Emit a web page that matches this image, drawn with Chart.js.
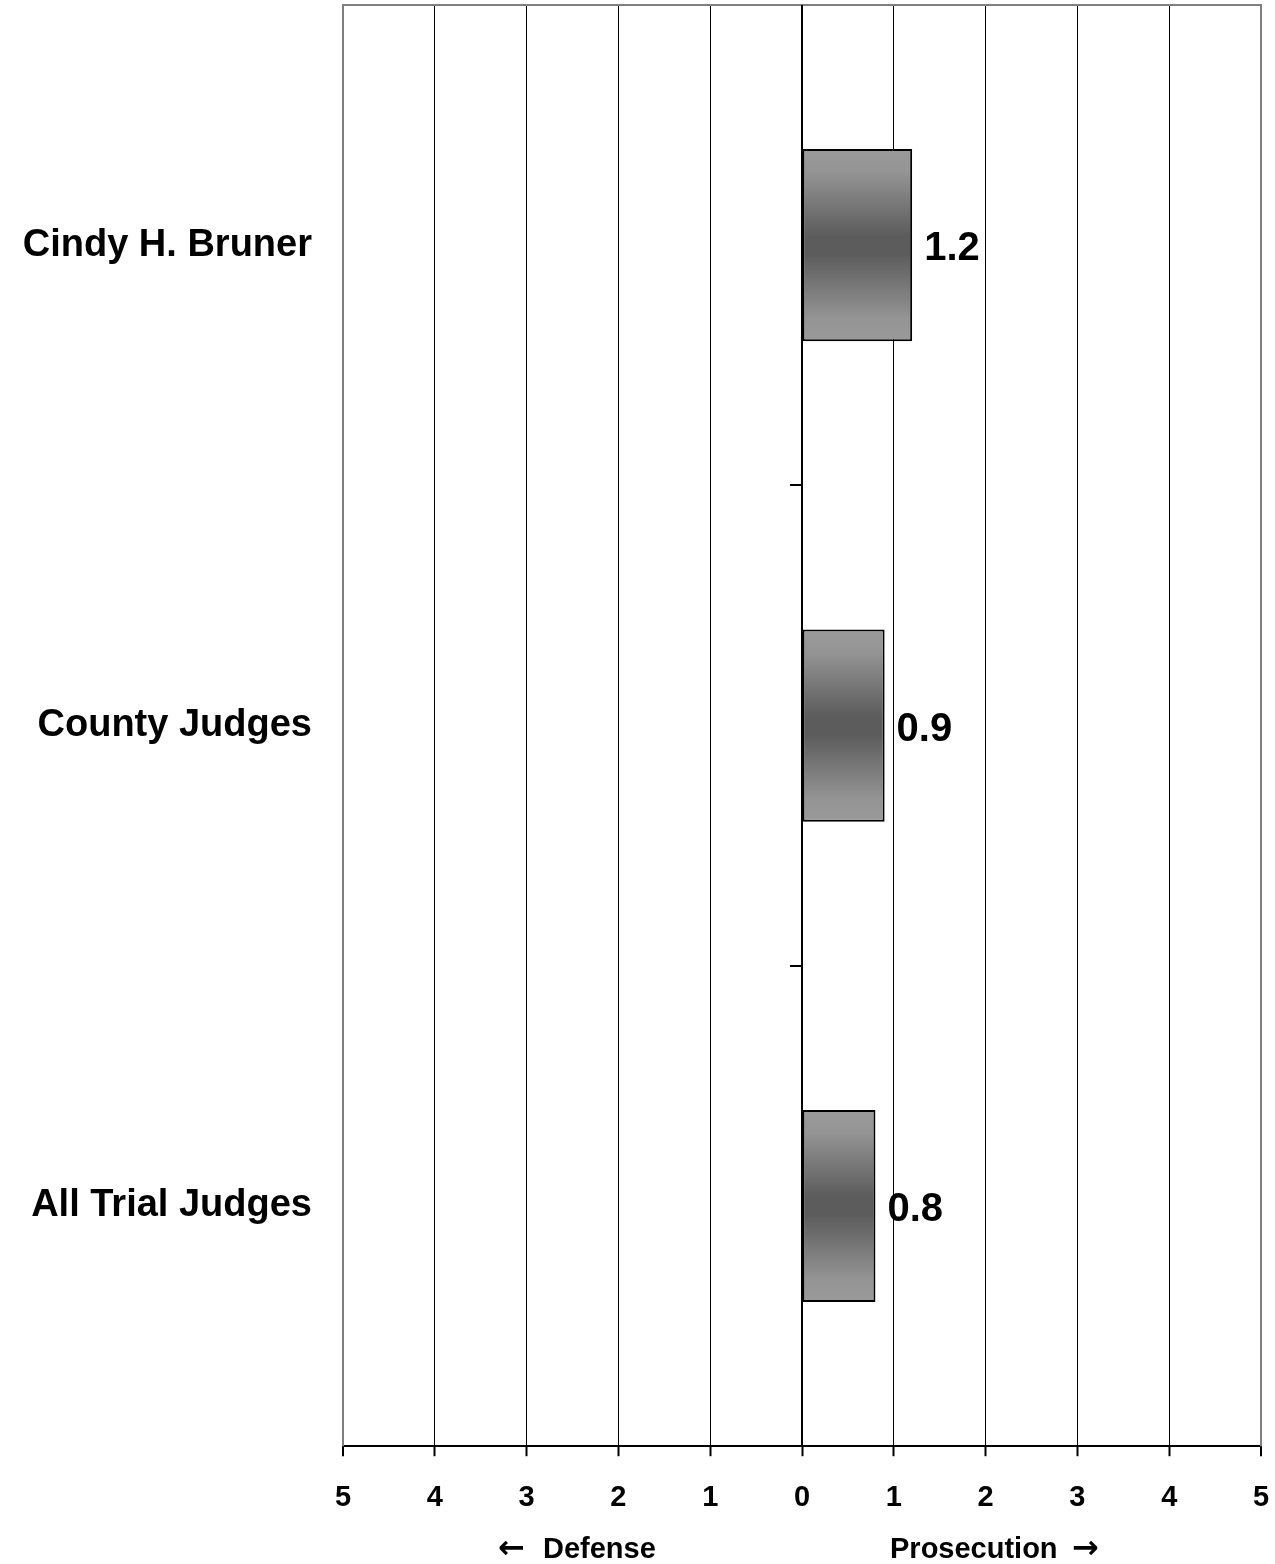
<!DOCTYPE html>
<html>
<head>
<meta charset="utf-8">
<script src="https://cdn.jsdelivr.net/npm/chart.js@4.4.1/dist/chart.umd.min.js"></script>
<style>
  html, body { margin: 0; padding: 0; background: #fff; }
  #wrap { width: 1275px; height: 1564px; position: relative; }
</style>
</head>
<body>
<div id="wrap"><canvas id="c" width="1275" height="1564"></canvas></div>
<script>
const categories = ["Cindy H. Bruner", "County Judges", "All Trial Judges"];
const values = [1.2, 0.9, 0.8];
const valueLabels = ["1.2", "0.9", "0.8"];
const axisMin = -5;
const axisMax = 5;
const leftTitle = "Defense";
const rightTitle = "Prosecution";

const FONT = "'Liberation Sans', Arial, Helvetica, sans-serif";
const BAR_PCT = 0.4;

function barGradient(ctx) {
  const chart = ctx.chart;
  const y = chart.scales && chart.scales.y;
  if (!chart.chartArea || !y || ctx.dataIndex === undefined) return '#777';
  const center = y.getPixelForValue(ctx.dataIndex);
  const half = (y.height / categories.length) * BAR_PCT / 2;
  const g = chart.ctx.createLinearGradient(0, center - half, 0, center + half);
  g.addColorStop(0, '#9a9a9a');
  g.addColorStop(0.12, '#949494');
  g.addColorStop(0.45, '#5c5c5c');
  g.addColorStop(0.55, '#5c5c5c');
  g.addColorStop(0.88, '#949494');
  g.addColorStop(1, '#9a9a9a');
  return g;
}

const decor = {
  id: 'decor',
  beforeDatasetsDraw(chart) {
    const {ctx, chartArea: a} = chart;
    ctx.save();
    ctx.strokeStyle = '#808080';
    ctx.lineWidth = 2;
    ctx.beginPath();
    ctx.moveTo(a.left, a.bottom);
    ctx.lineTo(a.left, a.top);
    ctx.lineTo(a.right, a.top);
    ctx.lineTo(a.right, a.bottom);
    ctx.stroke();
    ctx.restore();
  },
  afterDatasetsDraw(chart) {
    const {ctx, chartArea: a, scales: {x, y}} = chart;
    ctx.save();
    const x0 = x.getPixelForValue(0);
    ctx.strokeStyle = '#000';
    ctx.lineWidth = 2;
    ctx.beginPath();
    ctx.moveTo(x0, a.top);
    ctx.lineTo(x0, a.bottom);
    const step = y.height / categories.length;
    for (let i = 1; i < categories.length; i++) {
      const yy = Math.round(y.getPixelForValue(i) - step / 2);
      ctx.moveTo(x0 - 12, yy);
      ctx.lineTo(x0, yy);
    }
    ctx.stroke();
    const meta = chart.getDatasetMeta(0);
    ctx.fillStyle = '#000';
    ctx.font = 'bold 40px ' + FONT;
    ctx.textAlign = 'left';
    ctx.textBaseline = 'middle';
    meta.data.forEach((bar, i) => {
      ctx.fillText(valueLabels[i], bar.x + 12, bar.y + 4);
    });
    // axis titles
    const ty = 1550;
    ctx.font = 'bold 29px ' + FONT;
    ctx.fillText(leftTitle, 543, ty);
    ctx.fillText(rightTitle, 890, ty);
    ctx.font = 'bold 32px "DejaVu Sans", sans-serif';
    ctx.fillText('\u2190', 498, ty);
    ctx.fillText('\u2192', 1072, ty);
    ctx.restore();
  }
};

new Chart(document.getElementById('c'), {
  type: 'bar',
  data: {
    labels: categories,
    datasets: [{
      data: values,
      backgroundColor: barGradient,
      borderColor: '#000',
      borderWidth: 2,
      borderSkipped: false,
      barPercentage: BAR_PCT,
      categoryPercentage: 1.0
    }]
  },
  options: {
    indexAxis: 'y',
    responsive: false,
    animation: false,
    devicePixelRatio: 1,
    layout: { padding: { top: 5, right: 14, bottom: 25, left: 0 } },
    plugins: { legend: { display: false }, tooltip: { enabled: false }, title: { display: false } },
    scales: {
      x: {
        min: axisMin,
        max: axisMax,
        ticks: {
          stepSize: 1,
          color: '#000',
          font: { family: FONT, size: 29, weight: 'bold' },
          padding: 24,
          maxRotation: 0,
          callback: v => String(Math.abs(v))
        },
        grid: {
          color: c => (c.tick && Math.abs(c.tick.value) === 5) ? '#808080' : '#000',
          lineWidth: c => (c.tick && Math.abs(c.tick.value) === 5) ? 2 : 1,
          drawTicks: true,
          tickLength: 10,
          tickColor: '#000',
          tickWidth: 2
        },
        border: { display: true, color: '#000', width: 2 },
        afterFit(s) { s.paddingLeft = 0; s.paddingRight = 0; }
      },
      y: {
        grid: { display: false, drawTicks: false },
        border: { display: false },
        ticks: {
          color: '#000',
          font: { family: FONT, size: 38, weight: 'bold' },
          padding: 31
        },
        afterFit(s) { s.width = 343; s.paddingTop = 0; s.paddingBottom = 0; }
      }
    }
  },
  plugins: [decor]
});
</script>
</body>
</html>
